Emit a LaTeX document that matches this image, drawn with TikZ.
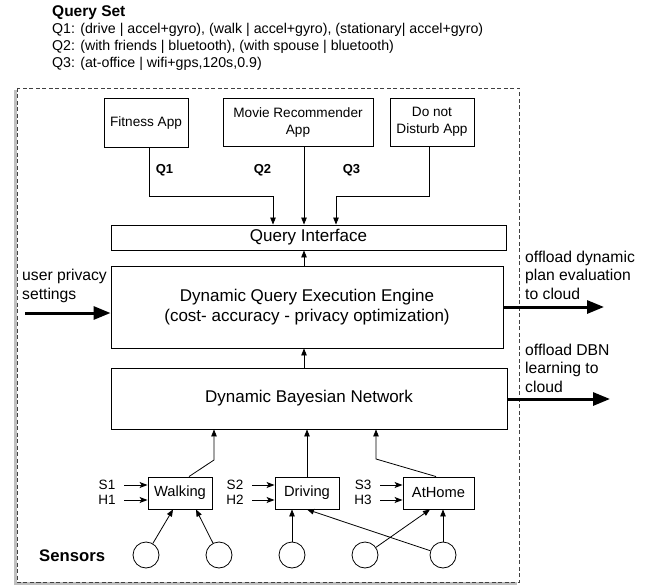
\documentclass[tikz,border=0pt]{standalone}
\usepackage{fontspec}
\setmainfont{Liberation Sans}
\usetikzlibrary{arrows.meta,calc}
\begin{document}
\begin{tikzpicture}[x=1pt,y=-1pt,
  box/.style={draw, line width=0.9pt, inner sep=0pt, align=center},
  arr/.style={-{Triangle[length=7pt,width=5.5pt]}, line width=0.8pt},
  inarr/.style={-{Stealth[length=8pt,width=6pt,inset=2pt]}, line width=1pt},
  bigarr/.style={-{Triangle[length=17pt,width=13pt]}, line width=3pt},
  mainf/.style={font=\fontsize{17}{20}\selectfont},
  appf/.style={font=\fontsize{13.6}{17}\selectfont},
  sidef/.style={font=\fontsize{15.7}{18.6}\selectfont, align=left, inner sep=0pt, anchor=west},
  statef/.style={font=\fontsize{14.7}{17}\selectfont},
  shf/.style={font=\fontsize{13.5}{15}\selectfont, inner sep=0pt},
  qf/.style={font=\fontsize{14.2}{17}\selectfont, inner sep=0pt, anchor=west},
  sensor/.style={draw, line width=0.8pt, circle, minimum size=26pt, inner sep=0pt},
  frame/.style={draw=black!75, line width=0.8pt, dash pattern=on 4pt off 2.5pt}
]
\useasboundingbox (0,0) rectangle (652,585);

% query set
\node[qf, font=\bfseries\fontsize{15.5}{18}\selectfont] (qs) at (52,13) {Query Set};
\node[qf] (q1) at (52,30) {Q1: (drive | accel+gyro), (walk | accel+gyro), (stationary| accel+gyro)};
\node[qf] (q2) at (52,47) {Q2: (with friends | bluetooth), (with spouse | bluetooth)};
\node[qf] (q3) at (52,64) {Q3: (at-office | wifi+gps,120s,0.9)};

% frame with shadow
\draw[black!25, line width=2.5pt] (15.5,90) -- (15.5,583.5) -- (517,583.5);
\draw[frame] (17,88) rectangle (519,582);

% apps
\node[box, appf, minimum width=84pt, minimum height=49pt] (fit) at (146,122.5) {Fitness App};
\node[box, appf, minimum width=150pt, minimum height=48pt] (mov) at (298,122) {Movie Recommender\\App};
\node[box, appf, minimum width=84pt, minimum height=48pt] (dnd) at (432,122) {Do not\\Disturb App};

% query interface, engine, dbn
\node[box, mainf, minimum width=395pt, minimum height=25pt] (qi) at (308.5,237.5) {Query Interface};
\node[box, mainf, minimum width=392pt, minimum height=82pt] (eng) at (307,307) {Dynamic Query Execution Engine\\(cost- accuracy - privacy optimization)};
\node[box, mainf, minimum width=396pt, minimum height=61pt] (dbn) at (309,398.5) {Dynamic Bayesian Network};

% app connectors
\coordinate (j1) at (149,196);
\coordinate (j3) at (429,196);
\draw[arr] (fit.south -| j1) -- (j1) -- (j1 -| 273,0) -- ([xshift=-35.5pt]qi.north);
\draw[arr] ([xshift=6pt]mov.south) -- ([xshift=-4.5pt]qi.north);
\draw[arr] (dnd.south -| j3) -- (j3) -- (j3 -| 336,0) -- ([xshift=27.5pt]qi.north);
\node[font=\bfseries\fontsize{13}{15}\selectfont] (lq1) at (164.5,170) {Q1};
\node[font=\bfseries\fontsize{13}{15}\selectfont] (lq2) at (262.5,170) {Q2};
\node[font=\bfseries\fontsize{13}{15}\selectfont] (lq3) at (351.5,170) {Q3};

% vertical links
\draw[arr] ([xshift=-3pt]eng.north) -- ([xshift=-4.5pt]qi.south);
\draw[arr] ([xshift=-5pt]dbn.north) -- ([xshift=-3pt]eng.south);

% side labels and thick arrows
\node[sidef] (upriv) at (22,286) {user privacy\\settings};
\coordinate (pin) at (25,313);
\draw[bigarr] (pin) -- (pin -| eng.west);
\node[sidef] (off1) at (525,275) {offload dynamic\\plan evaluation\\to cloud};
\coordinate (po1) at (604,307);
\draw[bigarr] (po1 -| eng.east) -- (po1);
\node[sidef] (off2) at (525,368) {offload DBN\\learning to\\cloud};
\coordinate (po2) at (610,399);
\draw[bigarr] (po2 -| dbn.east) -- (po2);

% states
\node[box, statef, minimum width=64pt, minimum height=32pt] (walk) at (180,493) {Walking};
\node[box, statef, minimum width=64pt, minimum height=32pt] (drv) at (307,493) {Driving};
\node[box, statef, minimum width=71pt, minimum height=32pt] (home) at (438.5,493) {AtHome};

\coordinate (w1) at (214,460);
\draw[arr] ([xshift=9pt]walk.north) -- (w1) -- (w1 |- dbn.south);
\draw[arr] (drv.north) -- (drv.north |- dbn.south);
\coordinate (h1) at (376,459);
\draw[arr] ([xshift=-2.5pt]home.north) -- (h1) -- (h1 |- dbn.south);

% S/H inputs
\node[shf] (s1) at (107,485) {S1};
\node[shf] (hh1) at (107,500) {H1};
\node[shf] (s2) at (235,485) {S2};
\node[shf] (hh2) at (235,500) {H2};
\node[shf] (s3) at (363,485) {S3};
\node[shf] (hh3) at (363,500) {H3};
\coordinate (as1) at (124,485);
\coordinate (ah1) at (124,500);
\coordinate (as2) at (252,485);
\coordinate (ah2) at (252,500);
\coordinate (as3) at (380,485);
\coordinate (ah3) at (380,500);
\draw[inarr] (as1) -- (as1 -| walk.west);
\draw[inarr] (ah1) -- (ah1 -| walk.west);
\draw[inarr] (as2) -- (as2 -| drv.west);
\draw[inarr] (ah2) -- (ah2 -| drv.west);
\draw[inarr] (as3) -- (as3 -| home.west);
\draw[inarr] (ah3) -- (ah3 -| home.west);

% sensors
\node[font=\bfseries\fontsize{16.7}{19}\selectfont, inner sep=0pt, anchor=west] (sens) at (39,556) {Sensors};
\node[sensor] (c1) at (146,555) {};
\node[sensor] (c2) at (219,555) {};
\node[sensor] (c3) at (292,555) {};
\node[sensor] (c4) at (365,555) {};
\node[sensor] (c5) at (443,555) {};
\draw[arr] (c1) -- ([xshift=-7pt]walk.south);
\draw[arr] (c2) -- ([xshift=16pt]walk.south);
\draw[arr] (c3.north) -- (c3.north |- drv.south);
\draw[arr] (c4) -- ([xshift=-8.5pt]home.south);
\draw[arr] (c5) -- (drv.south);
\draw[arr] (c5.north) -- (c5.north |- home.south);
\end{tikzpicture}
\end{document}
